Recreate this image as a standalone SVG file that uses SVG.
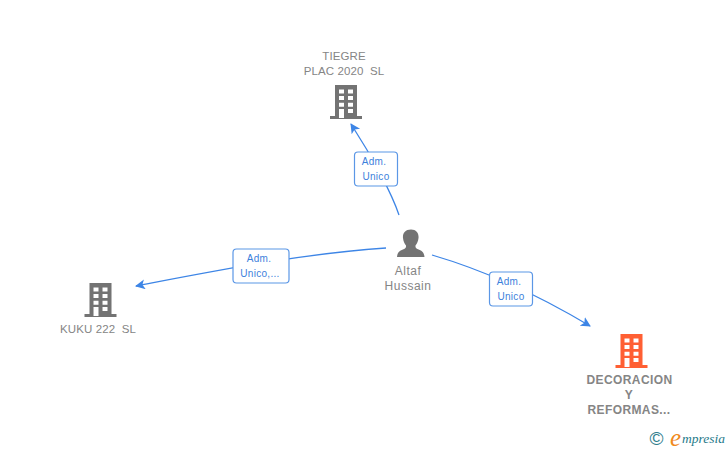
<svg xmlns="http://www.w3.org/2000/svg" width="728" height="450" viewBox="0 0 728 450">
<style>
.lbl{font-family:"Liberation Sans",Arial,sans-serif;font-size:11.500px;letter-spacing:.1px;fill:#858585;text-anchor:middle}
.big{font-size:12px;letter-spacing:.5px}
.bold{font-weight:bold;font-size:12px;letter-spacing:.4px}
.edge{fill:none;stroke:#3d85e6;stroke-width:1.3}
.box{fill:#fff;stroke:#5b97e6;stroke-width:1.2}
.elbl{font-family:"Liberation Sans",Arial,sans-serif;font-size:10px;fill:#3d7fdc;text-anchor:middle;letter-spacing:.3px}
</style>
<defs>
<marker id="arrow" markerUnits="userSpaceOnUse" markerWidth="12" markerHeight="12" refX="9" refY="5" orient="auto">
<path d="M0 0L10 5L0 10L2.500 5Z" fill="#3d85e6"/>
</marker>
<symbol id="bld" viewBox="0 0 32 34" overflow="visible">
<path fill-rule="evenodd" d="M5 0H27V31H32V34H0V31H5ZM9 4.500V8.500H14V4.500ZM18 4.500V8.500H23V4.500ZM9 11V15H14V11ZM18 11V15H23V11ZM9 17.700V21.700H14V17.700ZM18 17.700V21.700H23V17.700ZM9 24V33H14V24ZM18 24V28H23V24Z"/>
</symbol>
</defs>
<rect width="728" height="450" fill="#fff"/>
<g id="connectors">
<path class="edge" d="M399 215C392 194 373 158 351 124" marker-end="url(#arrow)"/>
<path class="edge" d="M386 248C300 254 220 270 136 286" marker-end="url(#arrow)"/>
<path class="edge" d="M432 255C490 272 540 296 590 326" marker-end="url(#arrow)"/>
</g>
<g id="edge-label-top"><rect class="box" x="354.500" y="152" width="43" height="34" rx="3.500"/><text class="elbl" x="374" y="165">Adm.</text><text class="elbl" x="376" y="180">Unico</text></g>
<g id="edge-label-left"><rect class="box" x="233" y="249" width="56" height="34" rx="3.500"/><text class="elbl" x="259" y="262">Adm.</text><text class="elbl" x="260" y="277">Unico,...</text></g>
<g id="edge-label-right"><rect class="box" x="489.500" y="272" width="43" height="34" rx="3.500"/><text class="elbl" x="509" y="285">Adm.</text><text class="elbl" x="511" y="300">Unico</text></g>
<g id="node-tiegre"><use href="#bld" x="330" y="85" width="32" height="34" fill="#737373"/><text class="lbl" x="344" y="60">TIEGRE</text><text class="lbl" x="344" y="75" xml:space="preserve">PLAC 2020  SL</text></g>
<g id="node-kuku"><use href="#bld" x="84.500" y="283" width="32" height="34" fill="#737373"/><text class="lbl" x="98" y="333" xml:space="preserve">KUKU 222  SL</text></g>
<g id="node-altaf"><path fill="#737373" d="M411 229.500C416.500 229.500 419 233.500 418.500 238C418.200 241 417 243.500 415.500 245.500C415.200 247.500 416 248.500 418 249.300C421.500 250.500 424 252 424.500 257H397C397.500 252 400 250.500 403.500 249.300C405.500 248.500 406.300 247.500 406 245.500C404.500 243.500 403.300 241 403 238C402.500 233.500 405 229.500 411 229.500Z"/><text class="lbl big" x="408" y="275">Altaf</text><text class="lbl big" x="408" y="290">Hussain</text></g>
<g id="node-decoracion"><use href="#bld" x="615.500" y="334" width="32" height="34" fill="#ff5f33"/><text class="lbl bold" x="629.500" y="384">DECORACION</text><text class="lbl bold" x="629" y="399">Y</text><text class="lbl bold" x="629" y="414">REFORMAS...</text></g>
<g id="logo"><text x="649.500" y="445" style="font-family:'Liberation Sans',sans-serif;font-size:19px" fill="#2f7d8c">©</text><text x="670" y="446" style="font-family:'Liberation Serif',serif;font-size:25px;font-style:italic" fill="#f08a1d">e</text><text x="682" y="443" style="font-family:'Liberation Serif',serif;font-size:13.500px;font-style:italic" fill="#1f7a8a">mpresia</text></g>
</svg>
